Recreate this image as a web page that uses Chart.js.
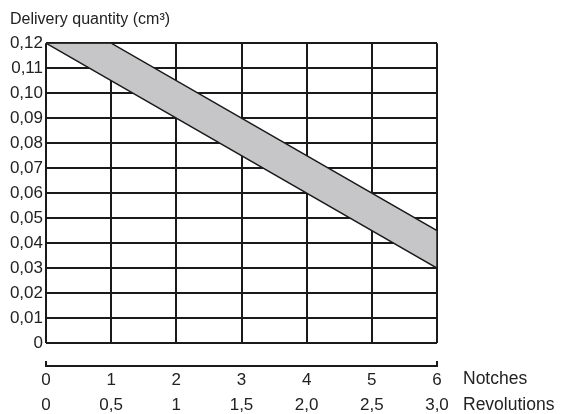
<!DOCTYPE html>
<html>
<head>
<meta charset="utf-8">
<script src="https://cdn.jsdelivr.net/npm/chart.js@4"></script>
<style>
html,body{margin:0;padding:0;background:#fff;}
#wrap{width:565px;height:414px;}
</style>
</head>
<body>
<div id="wrap"><canvas id="c" width="565" height="414"></canvas></div>
<script>
// Data
const notchTicks = [0, 1, 2, 3, 4, 5, 6];
const revolutionLabels = ['0', '0,5', '1', '1,5', '2,0', '2,5', '3,0'];
const bandNotches = [0, 1, 6, 6, 0];
const bandQuantity = [0.12, 0.12, 0.045, 0.03, 0.12];
const yMin = 0, yMax = 0.12, yStep = 0.01;

const FAMILY = '"Liberation Sans", Arial, sans-serif';
const TXT = '#222';
const LINE = '#1a1a1a';

const bandPoints = bandNotches.map((x, i) => ({x: x, y: bandQuantity[i]}));

const sidePlugin = {
  id: 'side',
  afterDraw(chart) {
    const ctx = chart.ctx;
    const xs = chart.scales.x;
    const left = xs.getPixelForValue(notchTicks[0]);
    const right = xs.getPixelForValue(notchTicks[notchTicks.length - 1]);
    const by = chart.chartArea.bottom + 23;
    ctx.save();
    ctx.strokeStyle = LINE;
    ctx.lineWidth = 2;
    ctx.beginPath();
    ctx.moveTo(left, by - 5);
    ctx.lineTo(left, by);
    ctx.lineTo(right, by);
    ctx.lineTo(right, by - 5);
    ctx.stroke();
    ctx.fillStyle = TXT;
    ctx.font = '17.5px ' + FAMILY;
    ctx.textBaseline = 'middle';
    ctx.textAlign = 'left';
    const rowTop = xs.top + xs.options.ticks.padding;
    ctx.fillText('Notches', right + 26, rowTop + 11);
    ctx.fillText('Revolutions', right + 26, rowTop + 37);
    ctx.restore();
  }
};

new Chart(document.getElementById('c'), {
  type: 'line',
  data: {
    datasets: [{
      data: bandPoints,
      borderColor: LINE,
      borderWidth: 1.5,
      backgroundColor: '#c6c6c8',
      fill: 'shape',
      pointRadius: 0,
      tension: 0
    }]
  },
  options: {
    responsive: false,
    animation: false,
    layout: {padding: {left: 10, right: 128, top: 0, bottom: 0}},
    plugins: {
      legend: {display: false},
      tooltip: {enabled: false},
      title: {
        display: true,
        text: 'Delivery quantity (cm³)',
        align: 'start',
        color: TXT,
        font: {family: FAMILY, size: 16, weight: 'normal'},
        padding: {top: 10, bottom: 14}
      }
    },
    scales: {
      x: {
        type: 'linear', min: 0, max: 6, position: 'bottom',
        afterBuildTicks: (s) => { s.ticks = notchTicks.map(v => ({value: v})); },
        afterFit: (s) => { s.height = 71; },
        ticks: {color: TXT, font: {family: FAMILY, size: 17, lineHeight: '25px'}, padding: 25,
                autoSkip: false, maxRotation: 0,
                callback: (v) => {
                  const i = notchTicks.indexOf(v);
                  return [String(notchTicks[i]), revolutionLabels[i]];
                }},
        grid: {color: LINE, lineWidth: 2, drawTicks: false},
        border: {display: false}
      },
      y: {
        min: yMin, max: yMax,
        afterFit: (s) => { s.width = 36; },
        ticks: {stepSize: yStep, color: TXT, font: {family: FAMILY, size: 17}, padding: 3,
                callback: (v) => Math.abs(v) < 1e-9 ? '0' : v.toFixed(2).replace('.', ',')},
        grid: {color: LINE, lineWidth: 2, drawTicks: false},
        border: {display: false}
      }
    }
  },
  plugins: [sidePlugin]
});
</script>
</body>
</html>
